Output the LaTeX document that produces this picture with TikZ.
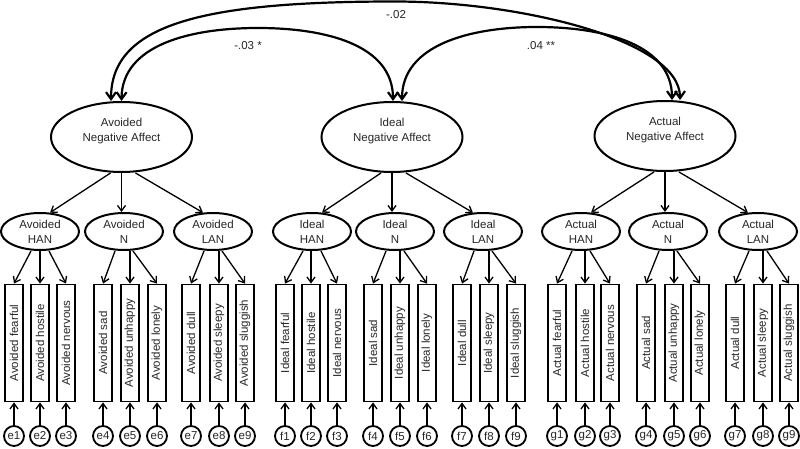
\documentclass[tikz,border=0pt]{standalone}
\usepackage{fontspec}
\setmainfont{Liberation Sans}
\usepackage{graphicx}
\usetikzlibrary{shapes.geometric,arrows.meta}
\begin{document}
\begin{tikzpicture}[x=1pt,y=-1pt,
  every node/.style={font=\fontsize{11.5}{15}\selectfont, text=black!85},
  bigell/.style={ellipse, draw=black, line width=2pt, minimum width=141pt, minimum height=70pt, inner sep=0pt},
  midell/.style={ellipse, draw=black, line width=2pt, minimum width=78pt, minimum height=37pt, inner sep=0pt, align=center},
  indbox/.style={rectangle, draw=black, line width=1.8pt, minimum width=18pt, minimum height=117pt, inner sep=0pt},
  errc/.style={circle, draw=black, line width=1.8pt, minimum size=20pt, inner sep=0pt},
  ld/.style={draw=black, line width=1.3pt, -{Straight Barb[length=5.5pt,width=8pt]}},
  cov/.style={draw=black, line width=2.2pt, {Straight Barb[length=7pt,width=10pt]}-{Straight Barb[length=7pt,width=10pt]}},
  lab/.style={inner sep=0pt}
]
\useasboundingbox (0,0) rectangle (800,449);

% top-level latent factors
\node[bigell] (ANA) at (121.5,137) {\raisebox{0pt}[0pt][6pt]{\begin{tabular}{@{}c@{}}Avoided\\Negative Affect\end{tabular}}};
\node[bigell] (INA) at (392,137) {\raisebox{0pt}[0pt][6pt]{\begin{tabular}{@{}c@{}}Ideal\\Negative Affect\end{tabular}}};
\node[bigell] (CNA) at (665,136) {\raisebox{0pt}[0pt][6pt]{\begin{tabular}{@{}c@{}}Actual\\Negative Affect\end{tabular}}};

% second-level factors
\node[midell] (AH) at (40,231.5) {Avoided\\HAN};
\node[midell] (AN) at (124,231.5) {Avoided\\N};
\node[midell] (AL) at (213,231.5) {Avoided\\LAN};
\node[midell] (IH) at (312,231.5) {Ideal\\HAN};
\node[midell] (IN) at (395,231.5) {Ideal\\N};
\node[midell] (IL) at (483,231.5) {Ideal\\LAN};
\node[midell] (CH) at (581,231.5) {Actual\\HAN};
\node[midell] (CN) at (668,231.5) {Actual\\N};
\node[midell] (CL) at (758,231.5) {Actual\\LAN};

% indicators and errors
\foreach \nm/\x/\t/\e in {
  A1/14/Avoided fearful/e1, A2/40/Avoided hostile/e2, A3/66/Avoided nervous/e3,
  A4/103/Avoided sad/e4, A5/130/Avoided unhappy/e5, A6/157/Avoided lonely/e6,
  A7/191/Avoided dull/e7, A8/219/Avoided sleepy/e8, A9/245/Avoided sluggish/e9,
  I1/285/Ideal fearful/f1, I2/311/Ideal hostile/f2, I3/337/Ideal nervous/f3,
  I4/373/Ideal sad/f4, I5/400/Ideal unhappy/f5, I6/427/Ideal lonely/f6,
  I7/462/Ideal dull/f7, I8/489/Ideal sleepy/f8, I9/516/Ideal sluggish/f9,
  C1/557/Actual fearful/g1, C2/585/Actual hostile/g2, C3/610/Actual nervous/g3,
  C4/646/Actual sad/g4, C5/674/Actual unhappy/g5, C6/700/Actual lonely/g6,
  C7/735/Actual dull/g7, C8/763/Actual sleepy/g8, C9/789/Actual sluggish/g9} {
  \node[indbox] (\nm) at (\x,343) {\rotatebox{90}{\t}};
  \node[errc] (err\nm) at (\x,436) {\e};
  \draw[ld] (err\nm.north) -- (\nm.south);
}

% loadings: top to second level
\foreach \p/\a/\b/\c in {ANA/AH/AN/AL, INA/IH/IN/IL, CNA/CH/CN/CL} {
  \draw[ld] ([xshift=-11pt]\p.south) -- (\a.62);
  \draw[ld] (\p.south) -- (\p.south |- \b.north);
  \draw[ld] ([xshift=14pt]\p.south) -- (\c.118);
}

% loadings: second level to indicators
\foreach \m/\a/\b/\c in {AH/A1/A2/A3, AN/A4/A5/A6, AL/A7/A8/A9,
                         IH/I1/I2/I3, IN/I4/I5/I6, IL/I7/I8/I9,
                         CH/C1/C2/C3, CN/C4/C5/C6, CL/C7/C8/C9} {
  \draw[ld] ([xshift=-9pt]\m.south) -- (\a.north);
  \draw[ld] (\b.north |- \m.south) -- (\b.north);
  \draw[ld] ([xshift=9pt]\m.south) -- (\c.north);
}

% covariances
\draw[cov] (ANA.north) .. controls (122,45) and (190,28) .. (258,28)
  .. controls (326,28) and (393,45) .. ([xshift=1pt]INA.north);
\draw[cov] ([xshift=10pt]INA.north) .. controls (402,45) and (470,27) .. (537,27)
  .. controls (605,27) and (672,45) .. ([xshift=7pt]CNA.north);
\draw[cov] ([xshift=-10.5pt]ANA.north) .. controls (111,25) and (200,1.5) .. (395,1.5)
  .. controls (520,1.5) and (680,40) .. ([xshift=15pt]CNA.north);

\node[lab] (c1) at (248,46) {-.03 *};
\node[lab] (c2) at (541,46) {.04 **};
\node[lab] (c3) at (396,15) {-.02};
\end{tikzpicture}
\end{document}
